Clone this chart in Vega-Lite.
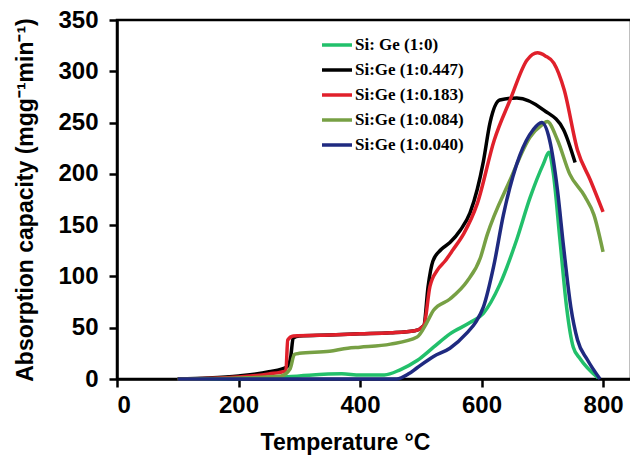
{
  "$schema": "https://vega.github.io/schema/vega-lite/v6.json",
  "width": 514,
  "height": 359,
  "autosize": "none",
  "padding": {"left": 117, "top": 20, "right": 0, "bottom": 77},
  "background": "white",
  "config": {
    "view": {"stroke": "black", "strokeWidth": 2.5},
    "axis": {"domainColor": "black", "domainWidth": 2.5, "tickColor": "black", "tickWidth": 2.5, "tickSize": 8, "grid": false, "labelFont": "Liberation Sans", "labelFontWeight": "bold", "labelFontSize": 24, "labelColor": "black", "titleFont": "Liberation Sans", "titleFontWeight": "bold", "titleFontSize": 23, "titleColor": "black"}
  },
  "data": {"values": [
    {"s":"Si: Ge (1:0)","t":100,"v":0},{"s":"Si: Ge (1:0)","t":250,"v":1},{"s":"Si: Ge (1:0)","t":300,"v":3},{"s":"Si: Ge (1:0)","t":370,"v":5},{"s":"Si: Ge (1:0)","t":400,"v":4},{"s":"Si: Ge (1:0)","t":440,"v":4},{"s":"Si: Ge (1:0)","t":466,"v":9},{"s":"Si: Ge (1:0)","t":494,"v":18},{"s":"Si: Ge (1:0)","t":521,"v":31},{"s":"Si: Ge (1:0)","t":548,"v":44},{"s":"Si: Ge (1:0)","t":581,"v":55},{"s":"Si: Ge (1:0)","t":603,"v":64},{"s":"Si: Ge (1:0)","t":630,"v":92},{"s":"Si: Ge (1:0)","t":658,"v":136},{"s":"Si: Ge (1:0)","t":680,"v":177},{"s":"Si: Ge (1:0)","t":702,"v":210},{"s":"Si: Ge (1:0)","t":711,"v":221},{"s":"Si: Ge (1:0)","t":718,"v":201},{"s":"Si: Ge (1:0)","t":729,"v":136},{"s":"Si: Ge (1:0)","t":740,"v":70},{"s":"Si: Ge (1:0)","t":751,"v":31},{"s":"Si: Ge (1:0)","t":762,"v":20},{"s":"Si: Ge (1:0)","t":792,"v":1},
    {"s":"Si:Ge (1:0.447)","t":100,"v":0},{"s":"Si:Ge (1:0.447)","t":150,"v":1},{"s":"Si:Ge (1:0.447)","t":200,"v":3},{"s":"Si:Ge (1:0.447)","t":250,"v":7},{"s":"Si:Ge (1:0.447)","t":280,"v":12},{"s":"Si:Ge (1:0.447)","t":286,"v":22},{"s":"Si:Ge (1:0.447)","t":290,"v":40},{"s":"Si:Ge (1:0.447)","t":300,"v":42},{"s":"Si:Ge (1:0.447)","t":350,"v":43},{"s":"Si:Ge (1:0.447)","t":400,"v":44},{"s":"Si:Ge (1:0.447)","t":450,"v":45},{"s":"Si:Ge (1:0.447)","t":490,"v":47},{"s":"Si:Ge (1:0.447)","t":505,"v":52},{"s":"Si:Ge (1:0.447)","t":512,"v":90},{"s":"Si:Ge (1:0.447)","t":520,"v":115},{"s":"Si:Ge (1:0.447)","t":533,"v":126},{"s":"Si:Ge (1:0.447)","t":548,"v":133},{"s":"Si:Ge (1:0.447)","t":565,"v":145},{"s":"Si:Ge (1:0.447)","t":581,"v":162},{"s":"Si:Ge (1:0.447)","t":593,"v":185},{"s":"Si:Ge (1:0.447)","t":603,"v":212},{"s":"Si:Ge (1:0.447)","t":614,"v":250},{"s":"Si:Ge (1:0.447)","t":630,"v":272},{"s":"Si:Ge (1:0.447)","t":658,"v":274},{"s":"Si:Ge (1:0.447)","t":703,"v":262},{"s":"Si:Ge (1:0.447)","t":735,"v":243},{"s":"Si:Ge (1:0.447)","t":754,"v":211},
    {"s":"Si:Ge (1:0.183)","t":100,"v":0},{"s":"Si:Ge (1:0.183)","t":200,"v":2},{"s":"Si:Ge (1:0.183)","t":250,"v":5},{"s":"Si:Ge (1:0.183)","t":278,"v":8},{"s":"Si:Ge (1:0.183)","t":281,"v":38},{"s":"Si:Ge (1:0.183)","t":290,"v":42},{"s":"Si:Ge (1:0.183)","t":350,"v":43},{"s":"Si:Ge (1:0.183)","t":400,"v":44},{"s":"Si:Ge (1:0.183)","t":450,"v":45},{"s":"Si:Ge (1:0.183)","t":490,"v":47},{"s":"Si:Ge (1:0.183)","t":505,"v":52},{"s":"Si:Ge (1:0.183)","t":515,"v":90},{"s":"Si:Ge (1:0.183)","t":527,"v":106},{"s":"Si:Ge (1:0.183)","t":540,"v":115},{"s":"Si:Ge (1:0.183)","t":553,"v":126},{"s":"Si:Ge (1:0.183)","t":571,"v":142},{"s":"Si:Ge (1:0.183)","t":593,"v":171},{"s":"Si:Ge (1:0.183)","t":621,"v":233},{"s":"Si:Ge (1:0.183)","t":647,"v":272},{"s":"Si:Ge (1:0.183)","t":675,"v":311},{"s":"Si:Ge (1:0.183)","t":692,"v":318},{"s":"Si:Ge (1:0.183)","t":705,"v":315},{"s":"Si:Ge (1:0.183)","t":719,"v":308},{"s":"Si:Ge (1:0.183)","t":736,"v":282},{"s":"Si:Ge (1:0.183)","t":758,"v":223},{"s":"Si:Ge (1:0.183)","t":779,"v":194},{"s":"Si:Ge (1:0.183)","t":800,"v":163},
    {"s":"Si:Ge (1:0.084)","t":100,"v":0},{"s":"Si:Ge (1:0.084)","t":200,"v":1},{"s":"Si:Ge (1:0.084)","t":270,"v":3},{"s":"Si:Ge (1:0.084)","t":285,"v":10},{"s":"Si:Ge (1:0.084)","t":292,"v":24},{"s":"Si:Ge (1:0.084)","t":300,"v":25},{"s":"Si:Ge (1:0.084)","t":350,"v":27},{"s":"Si:Ge (1:0.084)","t":380,"v":30},{"s":"Si:Ge (1:0.084)","t":400,"v":31},{"s":"Si:Ge (1:0.084)","t":450,"v":34},{"s":"Si:Ge (1:0.084)","t":494,"v":41},{"s":"Si:Ge (1:0.084)","t":510,"v":55},{"s":"Si:Ge (1:0.084)","t":521,"v":67},{"s":"Si:Ge (1:0.084)","t":548,"v":78},{"s":"Si:Ge (1:0.084)","t":576,"v":95},{"s":"Si:Ge (1:0.084)","t":598,"v":118},{"s":"Si:Ge (1:0.084)","t":609,"v":140},{"s":"Si:Ge (1:0.084)","t":647,"v":194},{"s":"Si:Ge (1:0.084)","t":680,"v":236},{"s":"Si:Ge (1:0.084)","t":700,"v":248},{"s":"Si:Ge (1:0.084)","t":708,"v":251},{"s":"Si:Ge (1:0.084)","t":725,"v":233},{"s":"Si:Ge (1:0.084)","t":745,"v":200},{"s":"Si:Ge (1:0.084)","t":770,"v":178},{"s":"Si:Ge (1:0.084)","t":785,"v":160},{"s":"Si:Ge (1:0.084)","t":800,"v":124},
    {"s":"Si:Ge (1:0.040)","t":100,"v":0},{"s":"Si:Ge (1:0.040)","t":300,"v":0},{"s":"Si:Ge (1:0.040)","t":460,"v":0},{"s":"Si:Ge (1:0.040)","t":480,"v":5},{"s":"Si:Ge (1:0.040)","t":494,"v":11},{"s":"Si:Ge (1:0.040)","t":521,"v":22},{"s":"Si:Ge (1:0.040)","t":548,"v":30},{"s":"Si:Ge (1:0.040)","t":576,"v":45},{"s":"Si:Ge (1:0.040)","t":590,"v":55},{"s":"Si:Ge (1:0.040)","t":603,"v":70},{"s":"Si:Ge (1:0.040)","t":620,"v":110},{"s":"Si:Ge (1:0.040)","t":636,"v":160},{"s":"Si:Ge (1:0.040)","t":663,"v":218},{"s":"Si:Ge (1:0.040)","t":685,"v":243},{"s":"Si:Ge (1:0.040)","t":699,"v":250},{"s":"Si:Ge (1:0.040)","t":712,"v":233},{"s":"Si:Ge (1:0.040)","t":725,"v":184},{"s":"Si:Ge (1:0.040)","t":735,"v":129},{"s":"Si:Ge (1:0.040)","t":747,"v":70},{"s":"Si:Ge (1:0.040)","t":758,"v":38},{"s":"Si:Ge (1:0.040)","t":774,"v":19},{"s":"Si:Ge (1:0.040)","t":795,"v":0}
  ]},
  "mark": {"type": "line", "strokeWidth": 3.5, "interpolate": "monotone"},
  "encoding": {
    "x": {"field": "t", "type": "quantitative", "scale": {"domain": [0, 846], "nice": false},
      "axis": {"values": [0, 200, 400, 600, 800], "title": "Temperature °C", "labelPadding": 6, "titlePadding": 14, "titleX": 228}},
    "y": {"field": "v", "type": "quantitative", "scale": {"domain": [0, 350], "nice": false},
      "axis": {"values": [0, 50, 100, 150, 200, 250, 300, 350], "title": "Absorption capacity (mgg⁻¹min⁻¹)", "labelPadding": 11, "titlePadding": 20}},
    "color": {"field": "s", "type": "nominal",
      "scale": {"domain": ["Si: Ge (1:0)", "Si:Ge (1:0.447)", "Si:Ge (1:0.183)", "Si:Ge (1:0.084)", "Si:Ge (1:0.040)"],
        "range": ["#22c06b", "#000000", "#e0202b", "#77a044", "#1f2a80"]},
      "legend": {"title": null, "orient": "none", "legendX": 203, "legendY": 8, "symbolType": "stroke", "symbolSize": 900, "symbolStrokeWidth": 3.5, "rowPadding": -5, "labelFont": "Liberation Serif", "labelFontWeight": "bold", "labelFontSize": 17, "labelColor": "black", "labelOffset": 1, "labelLimit": 300}},
    "order": {"field": "s"}
  }
}
